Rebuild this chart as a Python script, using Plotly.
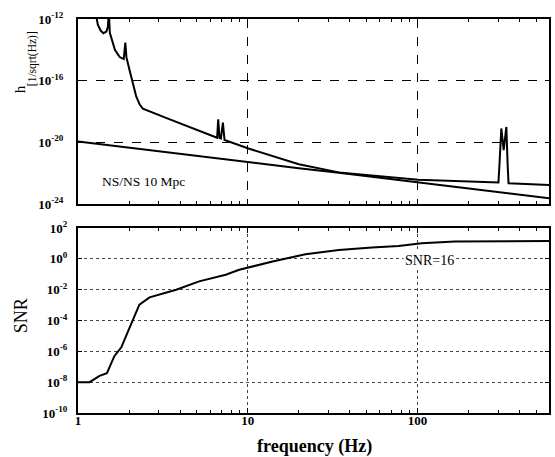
import plotly.graph_objects as go

# ---------------- data ----------------
noise_f = [1.20, 1.29, 1.31, 1.36, 1.41, 1.47, 1.50, 1.52, 1.54, 1.65, 1.76, 1.86, 1.90, 1.93,
           2.01, 2.11, 2.20, 2.31, 2.41, 3.30, 5.17, 6.60, 6.70, 6.82, 6.95, 7.14, 7.30,
           10.1, 20.0, 34.4, 101, 199, 294, 300, 304, 312, 322, 334, 340, 344, 600]
noise_logh = [-11.0, -12.0, -12.39, -12.75, -12.92, -12.82, -12.5, -11.5, -12.9, -14.0, -14.47, -14.6, -13.53, -14.5,
              -15.29, -16.15, -17.0, -17.55, -17.81, -18.41, -19.27, -19.7, -18.5, -19.72, -19.75, -18.72, -19.85,
              -20.4, -21.42, -21.95, -22.43, -22.56, -22.6, -22.6, -21.5, -19.1, -20.5, -19.0, -21.5, -22.65, -22.77]

signal_f = [1.0, 2.0, 5.2, 10.2, 20.0, 34.4, 101, 199, 600]
signal_logh = [-19.94, -20.35, -20.88, -21.3, -21.68, -21.98, -22.6, -23.0, -23.63]

snr_f = [1.0, 1.17, 1.34, 1.48, 1.64, 1.80, 1.96, 2.10, 2.30, 2.64, 3.79, 5.17, 7.42,
         8.91, 14.0, 21.9, 34.4, 54.0, 77.4, 106, 166, 600]
snr_log = [-8.0, -8.0, -7.59, -7.42, -6.3, -5.74, -4.77, -3.94, -2.97, -2.5, -2.0, -1.46, -1.03,
           -0.71, -0.17, 0.30, 0.58, 0.73, 0.84, 1.01, 1.12, 1.16]

x_tickvals = [1, 10, 100]
x_ticktext = ["1", "10", "100"]
x_minor = [2, 3, 4, 5, 6, 7, 8, 9, 20, 30, 40, 50, 60, 70, 80, 90, 200, 300, 400, 500]
top_y_exps = [-12, -16, -20, -24]
bot_y_exps = [2, 0, -2, -4, -6, -8, -10]

noise_h = [10 ** v for v in noise_logh]
signal_h = [10 ** v for v in signal_logh]
snr_vals = [10 ** v for v in snr_log]

FONT = "Liberation Serif"
XR = [0, 2.775]
W, H = 555, 457
ML, MR, MT, MB = 78, 4, 19, 44
PW, PH = W - ML - MR, H - MT - MB

fig = go.Figure()
fig.add_trace(go.Scatter(x=noise_f, y=noise_h, mode="lines", line=dict(color="black", width=2),
                         xaxis="x2", yaxis="y2", showlegend=False))
fig.add_trace(go.Scatter(x=signal_f, y=signal_h, mode="lines", line=dict(color="black", width=2),
                         xaxis="x2", yaxis="y2", showlegend=False))
fig.add_trace(go.Scatter(x=snr_f, y=snr_vals, mode="lines", line=dict(color="black", width=2),
                         xaxis="x", yaxis="y", showlegend=False))

common_x = dict(type="log", range=XR, tickvals=x_tickvals, ticks="inside", ticklen=5,
                tickcolor="black", showline=True, linecolor="black", linewidth=2, mirror="ticks",
                zeroline=False, layer="above traces",
                minor=dict(tickvals=x_minor, ticks="inside", ticklen=3, tickcolor="black", showgrid=False))

fig.update_layout(
    width=W, height=H,
    margin=dict(l=ML, r=MR, t=MT, b=MB),
    paper_bgcolor="white", plot_bgcolor="white",
    font=dict(family=FONT, color="black"),
    xaxis=dict(common_x, anchor="y", ticktext=x_ticktext,
               tickfont=dict(family=FONT, size=13, color="black", weight="bold"),
               ticklabelstandoff=-6,
               showgrid=True, gridcolor="#444", griddash="dot", gridwidth=1),
    xaxis2=dict(common_x, anchor="y2", matches="x", showticklabels=False,
                showgrid=True, gridcolor="black", griddash="dash", gridwidth=1),
    yaxis=dict(type="log", domain=[0, 0.4695], range=[-10, 2],
               tickvals=[10 ** e for e in bot_y_exps],
               ticktext=["10<sup>%d</sup>" % e for e in bot_y_exps],
               tickfont=dict(family=FONT, size=13, color="black", weight="bold"),
               ticks="inside", ticklen=4, tickcolor="black", ticklabelstandoff=6,
               showline=True, linecolor="black", linewidth=2, mirror="ticks",
               showgrid=True, gridcolor="#444", griddash="dot", gridwidth=1, zeroline=False),
    yaxis2=dict(type="log", domain=[0.5305, 1], range=[-24, -12],
                tickvals=[10 ** e for e in top_y_exps],
                ticktext=["10<sup>%d</sup>" % e for e in top_y_exps],
                tickfont=dict(family=FONT, size=13, color="black", weight="bold"),
                ticks="inside", ticklen=4, tickcolor="black", ticklabelstandoff=10,
                showline=True, linecolor="black", linewidth=2, mirror="ticks",
                showgrid=True, gridcolor="black", griddash="dash", gridwidth=1, zeroline=False),
)


def px(x, y):
    return dict(x=(x - ML) / PW, y=(H - MB - y) / PH, xref="paper", yref="paper",
                xanchor="center", yanchor="middle")

annotations = [
    dict(px(20, 89), text="h", textangle=-90, showarrow=False,
         font=dict(family=FONT, size=15, color="black")),
    dict(px(33, 59), text="[1/sqrt(Hz)]", textangle=-90, showarrow=False,
         font=dict(family=FONT, size=11.5, color="black")),
    dict(px(21, 316), text="SNR", textangle=-90, showarrow=False,
         font=dict(family=FONT, size=18, color="black")),
    dict(px(144, 182), text="NS/NS 10 Mpc", showarrow=False,
         font=dict(family=FONT, size=13.5, color="black")),
    dict(px(431, 260), text="SNR=16", showarrow=False, bgcolor="white",
         font=dict(family=FONT, size=14, color="black")),
    dict(px(316, 446), text="<b>frequency (Hz)</b>", showarrow=False,
         font=dict(family=FONT, size=18, color="black")),
]
fig.update_layout(annotations=annotations)

fig.write_html("out.html", config={"displayModeBar": False},
               post_script="document.body.style.margin='0';document.body.style.overflow='hidden';")
